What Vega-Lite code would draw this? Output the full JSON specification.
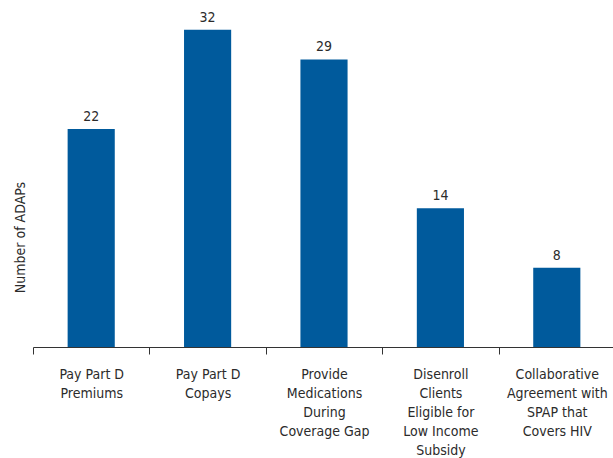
{
  "$schema": "https://vega.github.io/schema/vega-lite/v6.json",
  "width": 582,
  "height": 347,
  "autosize": {"type": "none"},
  "padding": {"left": 33, "top": 0, "right": 0, "bottom": 111},
  "background": "white",
  "config": {
    "view": {"stroke": null},
    "font": "DejaVu Sans Condensed, sans-serif"
  },
  "data": {
    "values": [
      {"category": "Pay Part D\nPremiums", "adaps": 22},
      {"category": "Pay Part D\nCopays", "adaps": 32},
      {"category": "Provide\nMedications\nDuring\nCoverage Gap", "adaps": 29},
      {"category": "Disenroll\nClients\nEligible for\nLow Income\nSubsidy", "adaps": 14},
      {"category": "Collaborative\nAgreement with\nSPAP that\nCovers HIV", "adaps": 8}
    ]
  },
  "encoding": {
    "x": {
      "field": "category",
      "type": "nominal",
      "sort": null,
      "scale": {"paddingInner": 0, "paddingOuter": 0},
      "axis": {
        "title": null,
        "labelAngle": 0,
        "labelExpr": "split(datum.label, '\\n')",
        "labelFont": "DejaVu Sans Condensed, sans-serif",
        "labelFontSize": 14,
        "labelColor": "#2b2b2b",
        "labelLineHeight": 19,
        "labelPadding": 13,
        "labelBaseline": "top",
        "ticks": true,
        "tickBand": "extent",
        "tickSize": 7,
        "tickColor": "#333333",
        "domainColor": "#333333",
        "tickWidth": 1,
        "domainWidth": 1,
        "labelLimit": 200
      }
    },
    "y": {
      "field": "adaps",
      "type": "quantitative",
      "scale": {"domain": [0, 35]},
      "axis": {
        "title": "Number of ADAPs",
        "labels": false,
        "ticks": false,
        "domain": false,
        "grid": false,
        "titleFont": "DejaVu Sans Condensed, sans-serif",
        "titleFontSize": 14,
        "titleFontWeight": "normal",
        "titleColor": "#2b2b2b",
        "titleAngle": -90,
        "titleX": -13,
        "titleY": 237,
        "titleAlign": "center",
        "titleBaseline": "middle"
      }
    }
  },
  "layer": [
    {"mark": {"type": "bar", "color": "#005A9C", "width": {"band": 0.405}}},
    {
      "mark": {"type": "text", "baseline": "bottom", "dy": -5, "fontSize": 14, "color": "#2b2b2b"},
      "encoding": {"text": {"field": "adaps", "type": "quantitative"}}
    }
  ]
}
